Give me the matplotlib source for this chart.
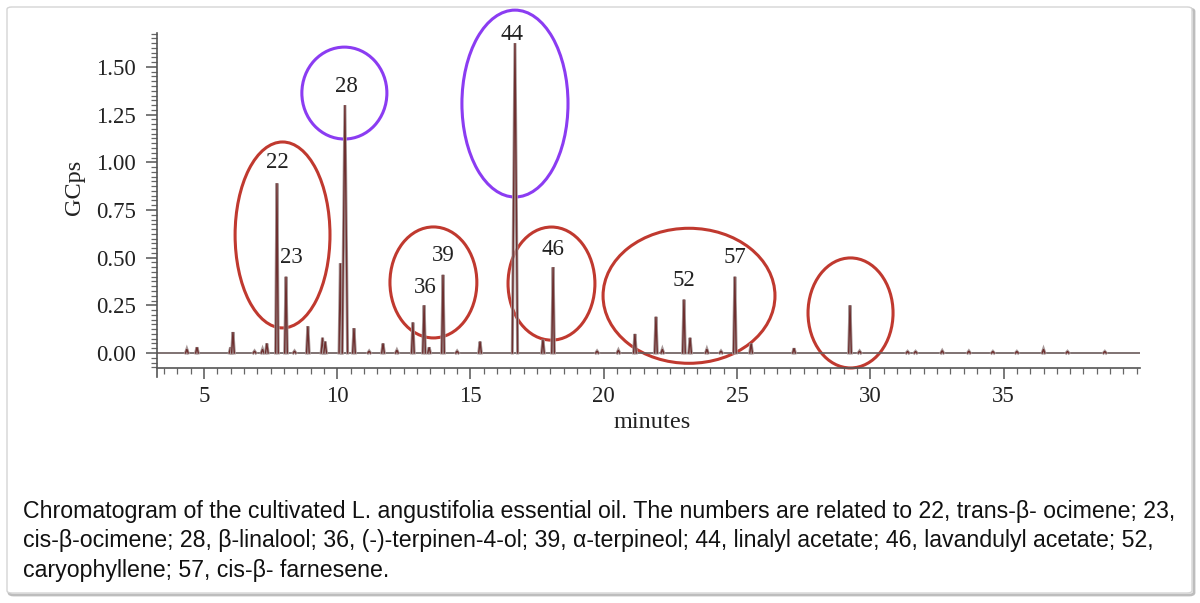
import matplotlib
matplotlib.use("Agg")
import matplotlib.pyplot as plt
from matplotlib.patches import Ellipse, FancyBboxPatch
from matplotlib.ticker import MultipleLocator, FixedLocator

# ---- data ----
peak_times = [4.36, 4.74, 6.00, 6.09, 6.90, 7.20, 7.36, 7.74, 8.08, 8.40, 8.90, 9.45, 9.55,
              10.12, 10.29, 10.63, 11.20, 11.72, 12.24, 12.84, 13.26, 13.45, 13.97, 14.50,
              15.36, 16.67, 17.72, 18.10, 19.75, 20.55, 21.17, 21.96, 22.20, 23.01, 23.24,
              23.87, 24.40, 24.92, 25.53, 27.14, 29.24, 29.60, 31.40, 31.70, 32.70, 33.70,
              34.60, 35.50, 36.50, 37.40, 38.80]
peak_heights = [0.02, 0.03, 0.03, 0.11, 0.01, 0.02, 0.05, 0.89, 0.40, 0.01, 0.14, 0.08, 0.06,
                0.47, 1.30, 0.13, 0.01, 0.05, 0.015, 0.16, 0.25, 0.03, 0.41, 0.01,
                0.06, 1.625, 0.07, 0.45, 0.01, 0.015, 0.10, 0.19, 0.02, 0.28, 0.08,
                0.02, 0.01, 0.40, 0.05, 0.025, 0.25, 0.01, 0.008, 0.008, 0.012, 0.01,
                0.008, 0.008, 0.02, 0.008, 0.008]
peak_labels = ["22", "23", "28", "36", "39", "44", "46", "52", "57"]
label_x = [7.74, 8.30, 10.33, 13.29, 13.97, 16.56, 18.10, 23.01, 24.92]
label_y = [1.00, 0.50, 1.395, 0.346, 0.51, 1.67, 0.545, 0.378, 0.503]

# highlighted groups: centre time, centre value, width (min), height (GCps), colour key
ring_x = [7.95, 10.27, 16.67, 13.61, 18.04, 23.20, 29.26]
ring_y = [0.619, 1.363, 1.308, 0.37, 0.364, 0.30, 0.21]
ring_w = [3.56, 3.19, 3.98, 3.26, 3.26, 6.45, 3.19]
ring_h = [0.975, 0.482, 0.98, 0.582, 0.593, 0.708, 0.577]
ring_kind = ["red", "purple", "purple", "red", "red", "red", "red"]

x_ticks = [5, 10, 15, 20, 25, 30, 35]
y_ticks = [0.00, 0.25, 0.50, 0.75, 1.00, 1.25, 1.50]

caption_lines = [
    "Chromatogram of the cultivated L. angustifolia essential oil. The numbers are related to 22, trans-\u03b2- ocimene; 23,",
    "cis-\u03b2-ocimene; 28, \u03b2-linalool; 36, (-)-terpinen-4-ol; 39, \u03b1-terpineol; 44, linalyl acetate; 46, lavandulyl acetate; 52,",
    "caryophyllene; 57, cis-\u03b2- farnesene.",
]

# ---- figure ----
W, H = 1200, 603
fig = plt.figure(figsize=(W / 100, H / 100), dpi=100)
fig.patch.set_facecolor("white")

# outer frame with a soft shadow
shadow = FancyBboxPatch((9 / W, (H - 595) / H), 1185 / W, 586 / H,
                        boxstyle="round,pad=0,rounding_size=0.004",
                        transform=fig.transFigure, facecolor="none", edgecolor="#bdbdbd", lw=2.0,
                        zorder=-10)
frame = FancyBboxPatch((7 / W, (H - 593) / H), 1185 / W, 586 / H,
                       boxstyle="round,pad=0,rounding_size=0.004",
                       transform=fig.transFigure, facecolor="white", edgecolor="#d4d4d4", lw=1.0,
                       zorder=-9)
fig.patches.extend([shadow, frame])

xmin, xmax = 3.24, 40.12
ymin, ymax = -0.125, 1.678
ax_bottom_px = 353 + 0.125 * 190.7
ax = fig.add_axes([157 / W, (H - ax_bottom_px) / H, (1140 - 157) / W, (ax_bottom_px - 33) / H])
ax.set_zorder(5)
ax.set_xlim(xmin, xmax)
ax.set_ylim(ymin, ymax)
ax.patch.set_alpha(0)

serif = "Liberation Serif"
trace_col = "#6e2f2f"

# baseline
ax.plot([xmin, xmax], [0, 0], color="#6a5a5a", lw=1.2, solid_capstyle="butt")
# peaks
for t, h in zip(peak_times, peak_heights):
    w = 0.10 if h > 1.0 else 0.05
    ax.plot([t - w, t, t + w], [0, h, 0], color="#a89a9a", lw=2.2, solid_joinstyle="miter")
    ax.plot([t - w, t, t + w], [0, h, 0], color=trace_col, lw=1.0, solid_joinstyle="miter")

for lab, x, y in zip(peak_labels, label_x, label_y):
    ax.text(x, y, lab, ha="center", va="center", fontsize=16.5, family=serif, color="#222222", clip_on=False)

ring_colors = {"red": "#c0392f", "purple": "#8b3cf2"}
for cx, cy, w, h, k in zip(ring_x, ring_y, ring_w, ring_h, ring_kind):
    ax.add_patch(Ellipse((cx, cy), w, h, fill=False, edgecolor=ring_colors[k], lw=2.2, clip_on=False))

for s in ["top", "right"]:
    ax.spines[s].set_visible(False)
for s in ["left", "bottom"]:
    ax.spines[s].set_color("#555555")
    ax.spines[s].set_linewidth(1.2)
ax.spines["bottom"].set_position(("data", -0.079))

ax.xaxis.set_major_locator(FixedLocator(x_ticks))
ax.xaxis.set_minor_locator(MultipleLocator(0.5))
ax.yaxis.set_major_locator(FixedLocator(y_ticks))
ax.yaxis.set_minor_locator(FixedLocator([i * 0.025 for i in range(-3, 68)]))
ax.set_yticklabels([f"{v:.2f}" for v in y_ticks])
ax.set_xticklabels([str(v) for v in x_ticks])
ax.tick_params(axis="both", which="major", length=8, width=1.1, color="#555555",
               labelsize=16.5, labelcolor="#222222")
ax.tick_params(axis="both", which="minor", length=4.5, width=0.9, color="#666666")
ax.tick_params(axis="y", which="major", pad=7)
ax.tick_params(axis="x", which="major", pad=5)
for lbl in ax.get_xticklabels() + ax.get_yticklabels():
    lbl.set_family(serif)

fig.text(75 / W, (H - 187) / H, "GCps", rotation=90, ha="center", va="center",
         fontsize=17.5, family=serif, color="#222222")
fig.text(652 / W, (H - 422) / H, "minutes", ha="center", va="center",
         fontsize=17.5, family=serif, color="#222222")

for i, line in enumerate(caption_lines):
    fig.text(23 / W, (H - (518 + 29.5 * i)) / H, line, ha="left", va="baseline",
             fontsize=16.7, family="Liberation Sans", color="#111111")

fig.savefig("out.png", dpi=100, facecolor="white")
